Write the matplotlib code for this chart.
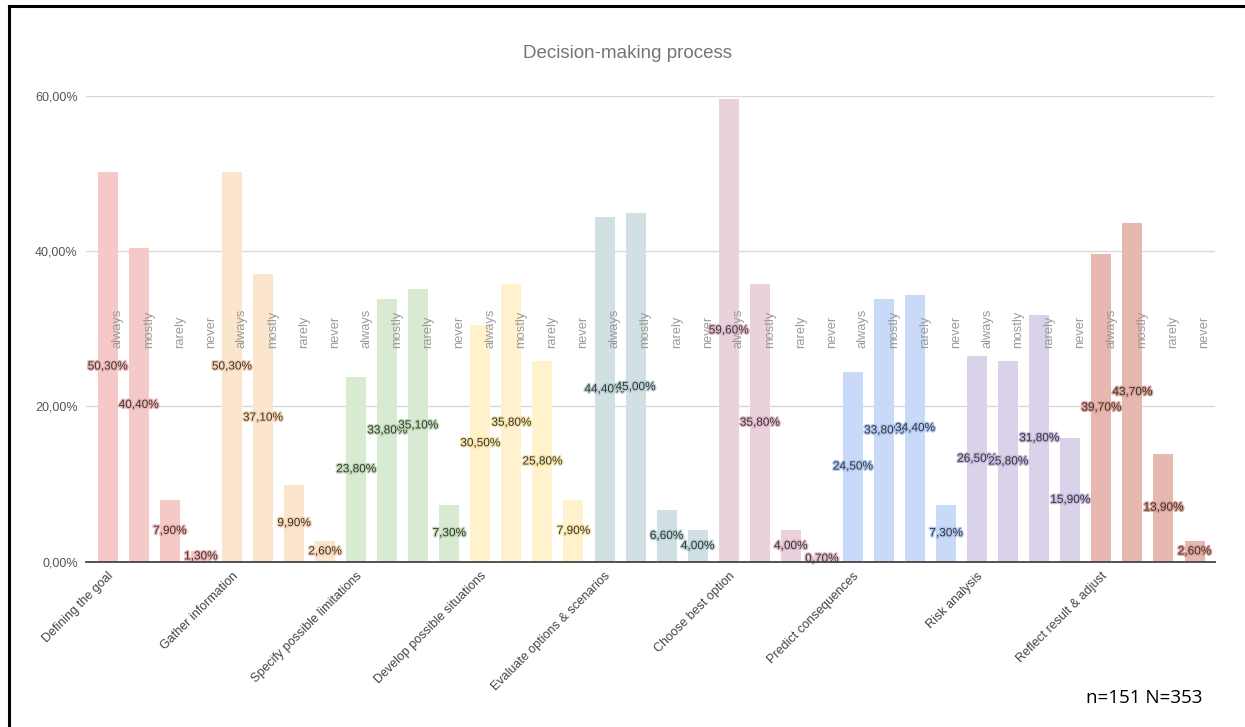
import numpy as np
import matplotlib
matplotlib.use("Agg")
import matplotlib.pyplot as plt
import matplotlib.patheffects as pe
from matplotlib.lines import Line2D
from matplotlib.ticker import FuncFormatter

# decision-making steps, each with 4 frequency answers (percent of respondents)
categories = ["Defining the goal", "Gather information", "Specify possible limitations",
              "Develop possible situations", "Evaluate options & scenarios", "Choose best option",
              "Predict consequences", "Risk analysis", "Reflect result & adjust"]
answers = ["always", "mostly", "rarely", "never"]

always = [50.3, 50.3, 23.8, 30.5, 44.4, 59.6, 24.5, 26.5, 39.7]
mostly = [40.4, 37.1, 33.8, 35.8, 45.0, 35.8, 33.8, 25.8, 43.7]
rarely = [7.9, 9.9, 35.1, 25.8, 6.6, 4.0, 34.4, 31.8, 13.9]
never = [1.3, 2.6, 7.3, 7.9, 4.0, 0.7, 7.3, 15.9, 2.6]

bar_colors = ["#f4c9c7", "#fce5cd", "#d9ead3", "#fff2cc", "#d0e0e3",
              "#ead1dc", "#c9daf8", "#d9d2e9", "#e6b8af"]
halo_colors = ["#eeb5b3", "#f6d4b2", "#bfdab5", "#f6e3a8", "#b8cfd4",
               "#dfb9ca", "#adc6f2", "#c3b9dd", "#dca195"]

plt.rcParams["font.family"] = ["Liberation Sans", "DejaVu Sans"]

fig = plt.figure(figsize=(12.45, 7.27), dpi=100)
W, H = 1245, 727
ax = fig.add_axes([86 / W, 1 - 561.5 / H, (1215 - 86) / W, (561.5 - 96.3) / H])

vals = np.array([always, mostly, rarely, never]).T.ravel()
n_ans = len(answers)
x = np.arange(len(vals))
colors = [bar_colors[i // n_ans] for i in range(len(vals))]
bw = 0.644

ax.bar(x, vals, width=bw, color=colors, zorder=2)

for i, v in enumerate(vals):
    # answer label along the right edge of each bar
    ax.text(x[i] + bw / 2, 27.6, answers[i % n_ans], rotation=90, rotation_mode="anchor",
            ha="left", va="center", fontsize=9.3, color="#9a9a9a", zorder=3)
for i, v in enumerate(vals):
    g = i // n_ans
    lab = f"{v:.2f}".replace(".", ",") + "%"
    ax.text(x[i], v / 2, lab, ha="center", va="center", fontsize=8.5, color="#333333", zorder=4,
            path_effects=[pe.withStroke(linewidth=2, foreground=halo_colors[g])])

ax.set_xlim(-0.699, 35.66)
ax.set_ylim(0, 60)
ax.set_yticks([0, 20, 40, 60])
ax.yaxis.set_major_formatter(FuncFormatter(lambda v, p: f"{v:.2f}".replace(".", ",") + "%"))
ax.grid(axis="y", color="#d9d9d9", linewidth=1, zorder=0)
ax.set_xticks(x[::n_ans])
ax.set_xticklabels(categories)
plt.setp(ax.get_xticklabels(), rotation=45, ha="right", rotation_mode="anchor",
         fontsize=9, color="#444444")
ax.tick_params(axis="both", length=0, pad=6)
ax.tick_params(axis="y", labelsize=9, labelcolor="#555555")
for s in ["top", "right", "left"]:
    ax.spines[s].set_visible(False)
ax.spines["bottom"].set_color("#444444")
ax.spines["bottom"].set_linewidth(1.3)
ax.spines["bottom"].set_zorder(5)

fig.text(627.5 / W, 1 - 54 / H, "Decision-making process", ha="center", va="center",
         fontsize=13.5, color="#757575")
fig.text(1086 / W, 1 - 698 / H, "n=151 N=353", ha="left", va="center",
         fontsize=13.5, color="black", family=["Open Sans", "DejaVu Sans"])

# outer frame of the figure box (left and top edges visible)
fig.add_artist(Line2D([8.5 / W, 8.5 / W], [0, 1 - 6 / H], color="black", linewidth=2.2))
fig.add_artist(Line2D([8.5 / W, 1], [1 - 6 / H, 1 - 6 / H], color="black", linewidth=2.2))

fig.savefig("out.png", dpi=100)
